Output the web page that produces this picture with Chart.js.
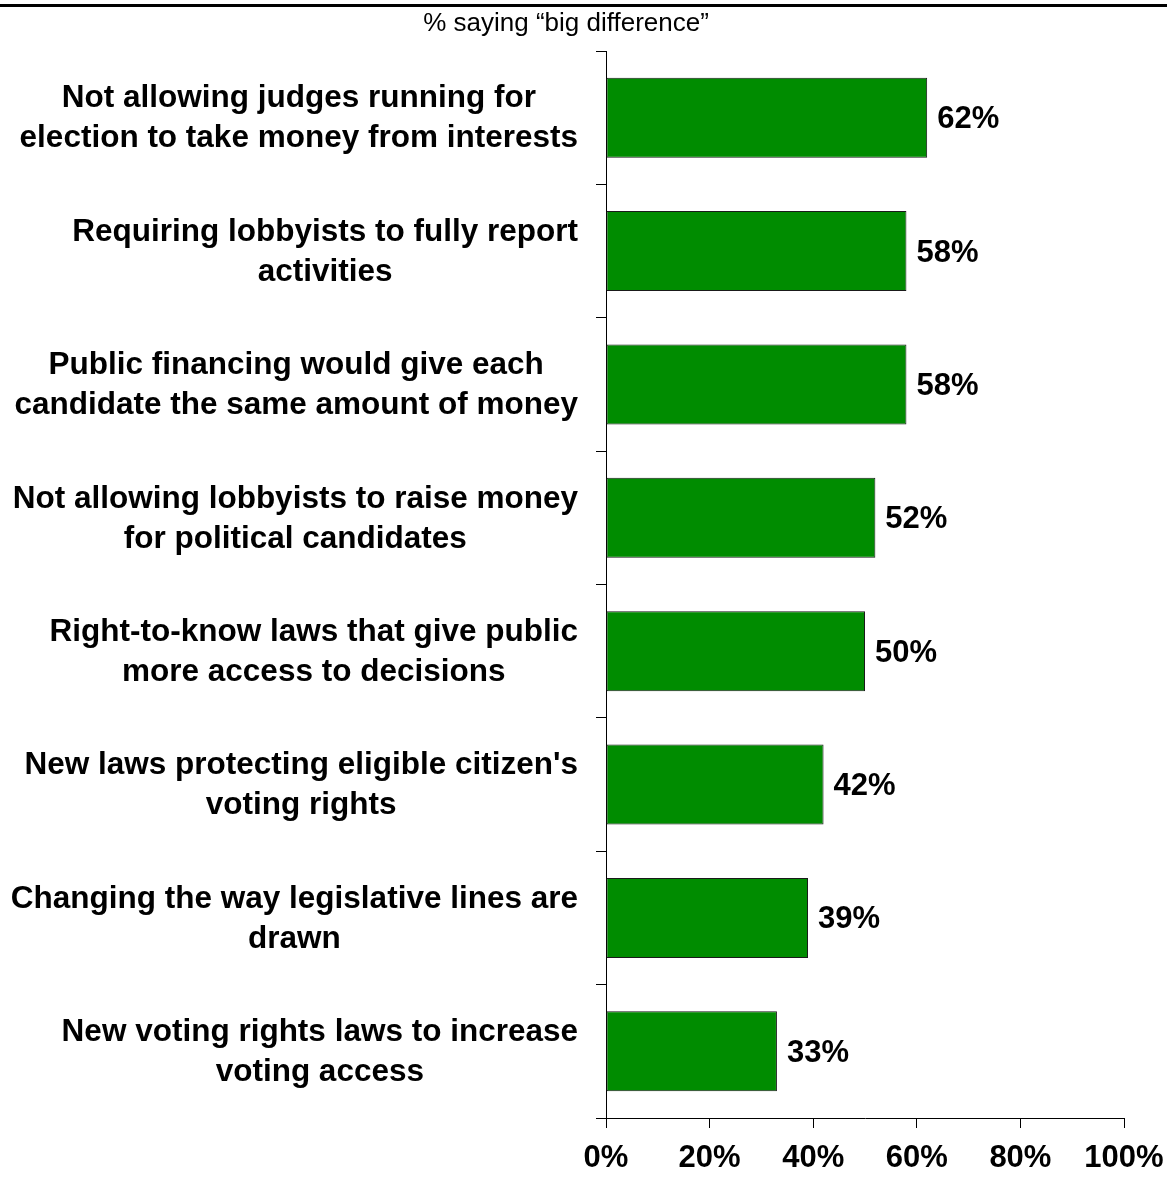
<!DOCTYPE html>
<html>
<head>
<meta charset="utf-8">
<script src="https://cdn.jsdelivr.net/npm/chart.js@4"></script>
<style>
  html, body { margin: 0; padding: 0; background: #fff; }
  #wrap { width: 1167px; height: 1178px; }
</style>
</head>
<body>
<div id="wrap"><canvas id="myChart" width="1167" height="1178"></canvas></div>
<script>
const categories = [
  ['Not allowing judges running for', 'election to take money from interests'],
  ['Requiring lobbyists to fully report', 'activities'],
  ['Public financing would give each', 'candidate the same amount of money'],
  ['Not allowing lobbyists to raise money', 'for political candidates'],
  ['Right-to-know laws that give public', 'more access to decisions'],
  ["New laws protecting eligible citizen's", 'voting rights'],
  ['Changing the way legislative lines are', 'drawn'],
  ['New voting rights laws to increase', 'voting access']
];
const bigDifference = [62, 58, 58, 52, 50, 42, 39, 33];
const xTicks = [0, 20, 40, 60, 80, 100];
const subtitle = '% saying \u201cbig difference\u201d';

const FONT = '"Liberation Sans", Arial, sans-serif';

const extras = {
  id: 'extras',
  afterDraw(chart) {
    const ctx = chart.ctx;
    const y = chart.scales.y;
    const x = chart.scales.x;
    ctx.save();
    ctx.fillStyle = '#000';
    ctx.textBaseline = 'middle';
    // top rule
    ctx.fillRect(0, 4, chart.width, 3);
    // subtitle
    ctx.font = '26px ' + FONT;
    ctx.textAlign = 'center';
    ctx.fillText(subtitle, 566, 24);

    // category labels: block right-aligned at axis, lines centered in block
    ctx.font = 'bold 31.5px ' + FONT;
    const lh = 40;
    categories.forEach((lines, i) => {
      const cy = y.getPixelForValue(i);
      const w = Math.max(...lines.map(l => ctx.measureText(l).width));
      const cx = chart.chartArea.left - 28 - w / 2;
      lines.forEach((l, k) => {
        ctx.fillText(l, cx, cy + 1 + (k - (lines.length - 1) / 2) * lh);
      });
    });

    // value labels
    ctx.font = 'bold 31px ' + FONT;
    ctx.textAlign = 'left';
    const meta = chart.getDatasetMeta(0);
    meta.data.forEach((bar, i) => {
      ctx.fillText(bigDifference[i] + '%', bar.x + 10, bar.y + 2);
    });

    // x tick labels
    ctx.font = 'bold 31px ' + FONT;
    ctx.textAlign = 'center';
    xTicks.forEach(v => {
      ctx.fillText(v + '%', x.getPixelForValue(v), chart.chartArea.bottom + 40);
    });
    ctx.restore();
  }
};

new Chart(document.getElementById('myChart').getContext('2d'), {
  type: 'bar',
  data: {
    labels: categories,
    datasets: [{
      data: bigDifference,
      backgroundColor: '#008c00',
      borderColor: '#1a1a1a',
      borderWidth: 1,
      borderSkipped: false,
      barPercentage: 0.6,
      categoryPercentage: 1.0
    }]
  },
  options: {
    indexAxis: 'y',
    responsive: false,
    animation: false,
    layout: { padding: { top: 51, right: 43, left: 0, bottom: 0 } },
    plugins: { legend: { display: false }, tooltip: { enabled: false } },
    scales: {
      x: {
        min: 0, max: 100,
        afterBuildTicks: s => { s.ticks = xTicks.map(v => ({ value: v })); },
        afterFit: s => { s.height = 60; },
        border: { display: true, color: '#000', width: 1 },
        grid: { drawOnChartArea: false, drawTicks: true, tickLength: 10, color: '#000' },
        ticks: { display: false }
      },
      y: {
        afterFit: s => { s.width = 606; },
        border: { display: true, color: '#000', width: 1 },
        grid: { offset: true, drawOnChartArea: false, drawTicks: true, tickLength: 10, color: '#000' },
        ticks: { display: false }
      }
    }
  },
  plugins: [extras]
});
</script>
</body>
</html>
